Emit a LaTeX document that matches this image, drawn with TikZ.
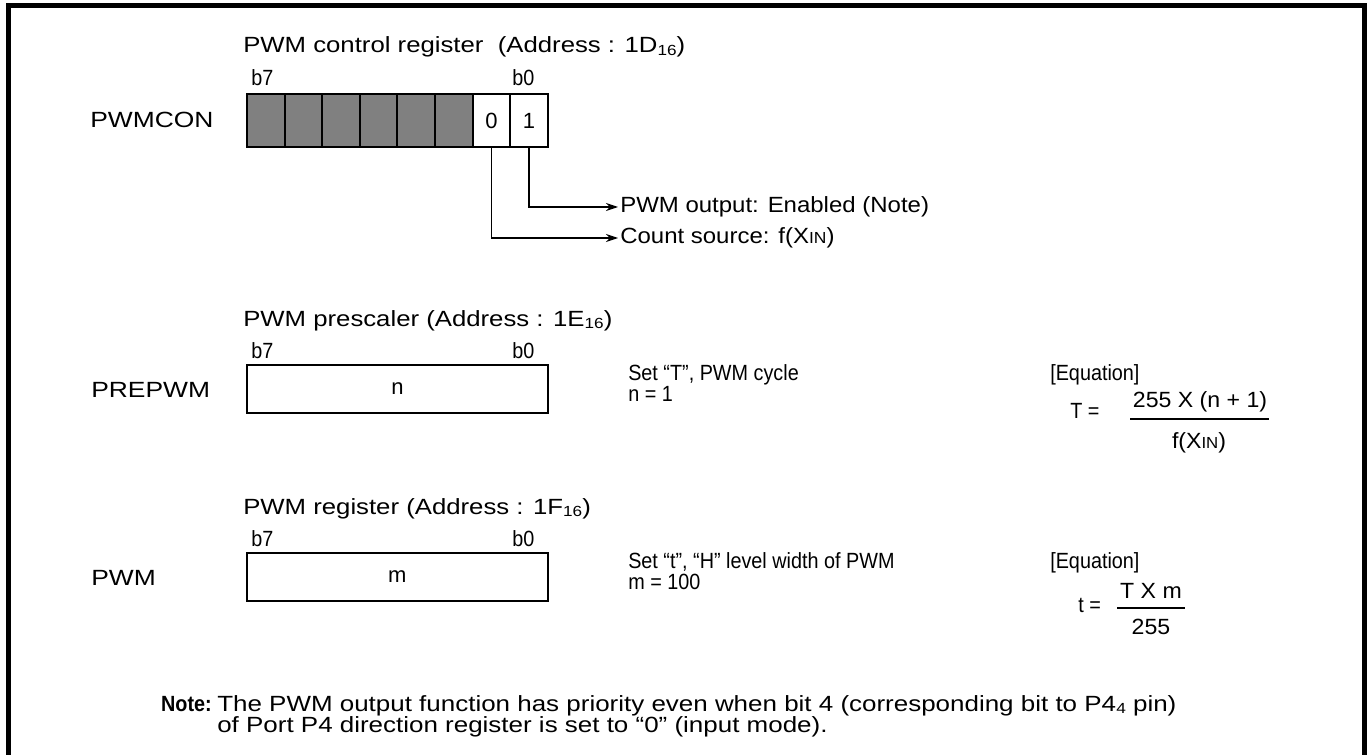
\documentclass[tikz,border=0pt]{standalone}
\usepackage{fontspec}
\setmainfont{Liberation Sans}
\newfontfamily\fontR{Liberation Sans}[FakeStretch=0.9]
\newfontfamily\fontE{Liberation Sans}[FakeStretch=1.05]
\newfontfamily\fontB{Liberation Sans}[FakeStretch=1.09]
\newfontfamily\fontC{Liberation Sans}[FakeStretch=1.17]
\newfontfamily\fontD{Liberation Sans}[FakeStretch=1.2]
\newfontfamily\fontN{Liberation Sans}[FakeStretch=1.18]
\usetikzlibrary{arrows.meta}
\newcommand\sbs[1]{\raisebox{-0.2ex}{\fontsize{11}{12}\selectfont #1}}
\newcommand\inx{{\fontsize{12}{13}\selectfont IN}}
\begin{document}
\begin{tikzpicture}[x=0.75pt,y=-0.75pt,
  base/.style={inner sep=0pt},
  ttl/.style={base,anchor=base west,font=\fontC\fontsize{16.5}{19}\selectfont},
  lft/.style={base,anchor=base west,font=\fontD\fontsize{16.5}{19}\selectfont},
  bit/.style={base,anchor=base west,font=\fontR\fontsize{16.5}{19}\selectfont},
  rtx/.style={base,anchor=base west,font=\fontR\fontsize{16.5}{19}\selectfont},
  eqt/.style={base,anchor=base,font=\fontE\fontsize{16.5}{19}\selectfont},
  ntx/.style={base,anchor=base west,font=\fontN\fontsize{16.5}{19}\selectfont},
  lbl/.style={anchor=west,inner xsep=1.5pt,inner ysep=0pt,font=\fontB\fontsize{16.5}{19}\selectfont},
  cellg/.style={draw,line width=1.5pt,fill=black!50,minimum width=28.2pt,minimum height=39.75pt,inner sep=0pt},
  cellw/.style={draw,line width=1.5pt,fill=white,minimum width=28.2pt,minimum height=39.75pt,inner sep=0pt,font=\fontsize{16.5}{19}\selectfont},
  regbox/.style={draw,line width=1.5pt,minimum width=225.6pt,minimum height=36pt,inner sep=0pt,font=\fontsize{16.5}{19}\selectfont},
  conn/.style={line width=0.9pt,-{Stealth[length=9pt,width=6pt]}},
  frame/.style={line width=3.75pt},
  bar/.style={line width=0.8pt}
]
\useasboundingbox (0,0) rectangle (1369,755);
% frame
\draw[frame] (8.5,757) -- (8.5,5.8) -- (1364.2,5.8) -- (1364.2,757);

% ---------- PWMCON ----------
\node[ttl] (t1) at (243,53) {PWM control register\ \ (Address : 1D\sbs{16})};
\node[bit] (b7a) at (251,86) {b7};
\node[bit] (b0a) at (512,86) {b0};
\node[lft] (pwmcon) at (90,128) {PWMCON};
\node[cellg] (c7) at (265.8,120.5) {};
\node[cellg] (c6) at (303.4,120.5) {};
\node[cellg] (c5) at (341,120.5) {};
\node[cellg] (c4) at (378.6,120.5) {};
\node[cellg] (c3) at (416.2,120.5) {};
\node[cellg] (c2) at (453.8,120.5) {};
\node[cellw] (c1) at (491.4,120.5) {0};
\node[cellw] (c0) at (529,120.5) {1};
\node[lbl] (pwmout) at (618,207) {PWM output: Enabled (Note)};
\node[lbl] (cntsrc) at (618,238) {Count source: f(X\inx)};
\draw[conn] (c0.south) |- (pwmout.west);
\draw[conn] (c1.south) |- (cntsrc.west);

% ---------- PREPWM ----------
\node[ttl] (t2) at (243,326) {PWM prescaler (Address : 1E\sbs{16})};
\node[bit] (b7b) at (251,358) {b7};
\node[bit] (b0b) at (512,358) {b0};
\node[lft] (prepwm) at (91,397) {PREPWM};
\node[regbox] (nbox) at (397.4,389) {n};
\node[rtx] (set1) at (628,380) {Set “T”, PWM cycle};
\node[rtx] (n1) at (628,401) {n = 1};
\node[rtx] (eq1) at (1050,380) {[Equation]};
\node[rtx] (Teq) at (1070,418) {T =};
\node[eqt] (num1) at (1200,407) {255 X (n + 1)};
\node[eqt] (den1) at (1199,448) {f(X\inx)};
\coordinate (bar1a) at (1130,419);
\coordinate (bar1b) at (1269,419);
\draw[bar] (bar1a) -- (bar1b);

% ---------- PWM ----------
\node[ttl] (t3) at (243,514) {PWM register (Address : 1F\sbs{16})};
\node[bit] (b7c) at (251,546) {b7};
\node[bit] (b0c) at (512,546) {b0};
\node[lft] (pwm) at (91,585) {PWM};
\node[regbox] (mbox) at (397.4,577) {m};
\node[rtx] (set2) at (628,568) {Set “t”, “H” level width of PWM};
\node[rtx] (m1) at (628,589) {m = 100};
\node[rtx] (eq2) at (1050,568) {[Equation]};
\node[rtx] (teq) at (1078,612) {t =};
\node[eqt] (num2) at (1151,598) {T X m};
\node[eqt] (den2) at (1151,634) {255};
\coordinate (bar2a) at (1117,608);
\coordinate (bar2b) at (1185,608);
\draw[bar] (bar2a) -- (bar2b);

% ---------- Note ----------
\node[base,anchor=base east,font=\fontR\fontsize{16.5}{19}\selectfont\bfseries] (note) at (212,711) {Note:};
\node[ntx] (nl1) at (217,711) {The PWM output function has priority even when bit 4 (corresponding bit to P4\sbs{4} pin)};
\node[ntx] (nl2) at (217,732) {of Port P4 direction register is set to “0” (input mode).};
\end{tikzpicture}
\end{document}
